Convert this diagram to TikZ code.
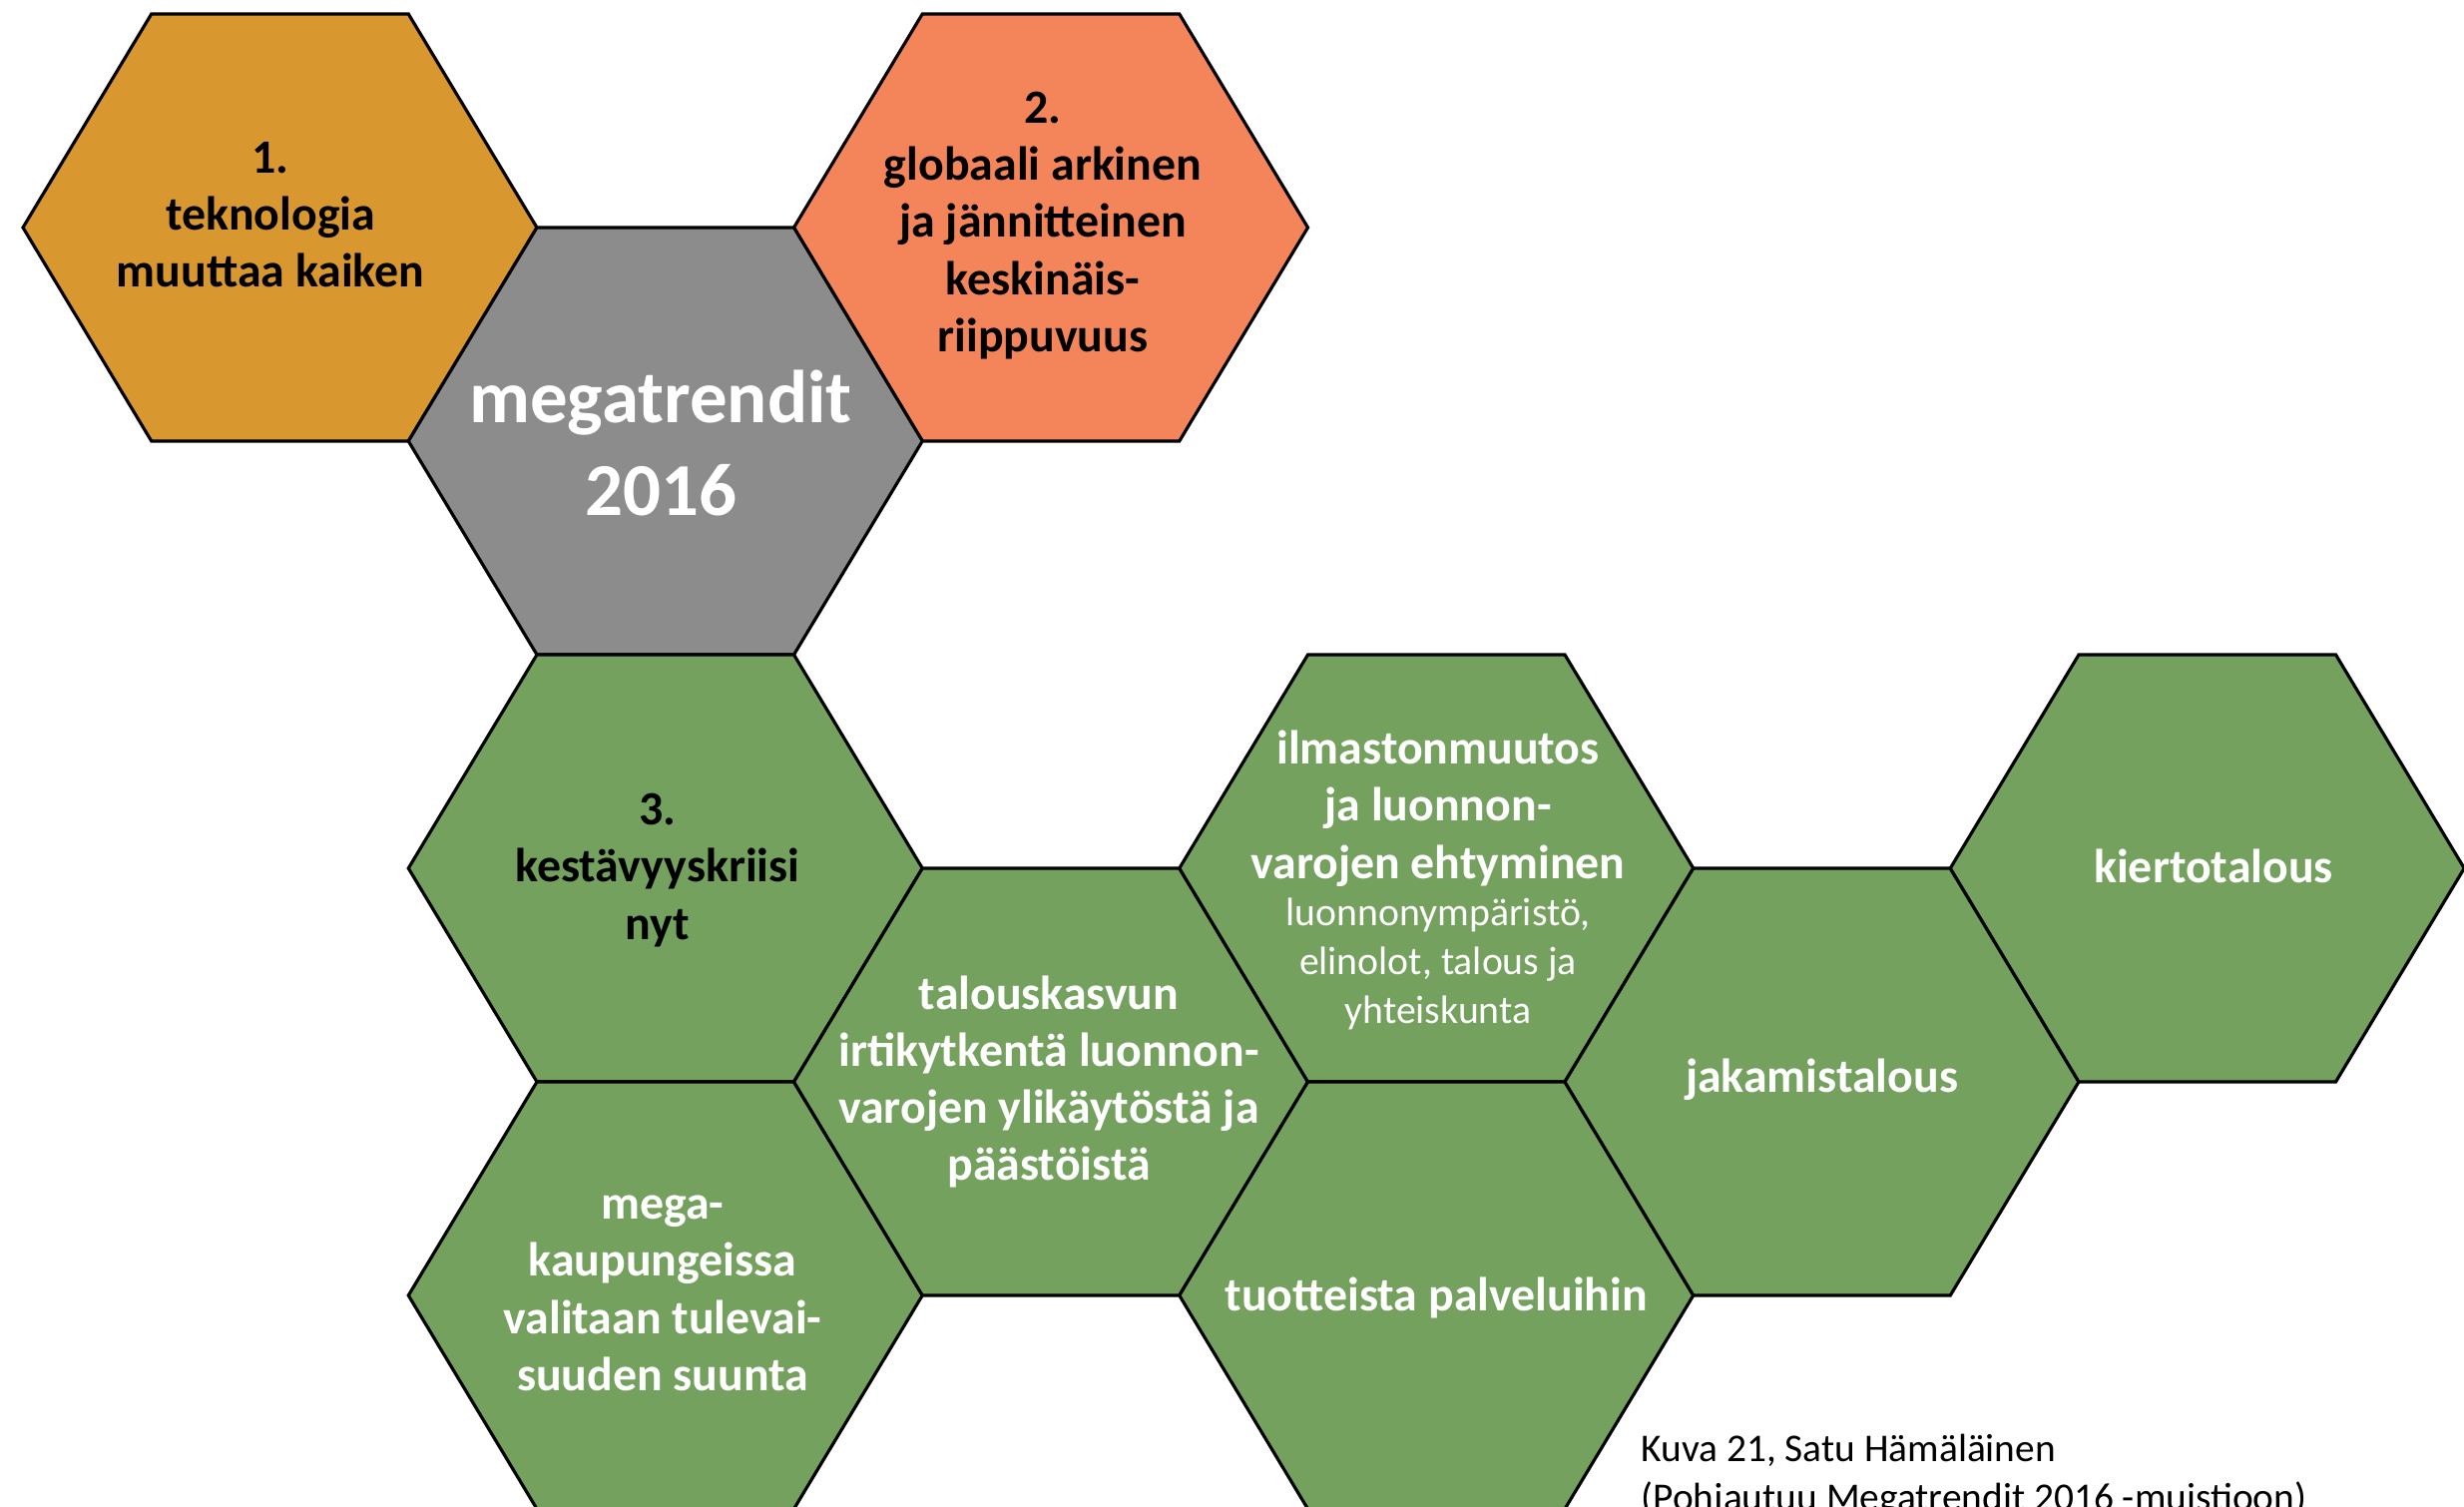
\documentclass[tikz,border=0pt]{standalone}
\usepackage{fontspec}
\setmainfont{Carlito}
\definecolor{hexorange}{RGB}{217,151,48}
\definecolor{hexsalmon}{RGB}{244,133,90}
\definecolor{hexgray}{RGB}{140,140,140}
\definecolor{hexgreen}{RGB}{116,161,94}
\tikzset{
  hexa/.pic={\path[pic actions] (-257.5,0) -- (-128.75,-214) -- (128.75,-214) -- (257.5,0) -- (128.75,214) -- (-128.75,214) -- cycle;},
  hexline/.style={draw=black, line width=0.9pt, line join=miter},
  lbl/.style={align=center, inner sep=0pt, font=\bfseries\fontsize{13.6}{16.3}\selectfont},
  sublbl/.style={align=center, inner sep=0pt, text=white, font=\fontsize{11.3}{13.9}\selectfont},
  biglbl/.style={align=center, inner sep=0pt, text=white, font=\bfseries\fontsize{21.3}{26.5}\selectfont},
  captext/.style={anchor=base west, inner sep=0pt, font=\fontsize{11.2}{13.4}\selectfont}
}
\begin{document}
\begin{tikzpicture}[x=0.01cm,y=-0.01cm]
\useasboundingbox (0,0) rectangle (2469,1510);
\clip (0,0) rectangle (2469,1510);
% hexagons
\pic[hexline, fill=hexorange] at (280.5,228) {hexa};
\pic[hexline, fill=hexsalmon] at (1053,228) {hexa};
\pic[hexline, fill=hexgray] at (666.75,442) {hexa};
\pic[hexline, fill=hexgreen] at (666.75,870) {hexa};
\pic[hexline, fill=hexgreen] at (666.75,1298) {hexa};
\pic[hexline, fill=hexgreen] at (1053,1084) {hexa};
\pic[hexline, fill=hexgreen] at (1439.25,870) {hexa};
\pic[hexline, fill=hexgreen] at (1439.25,1298) {hexa};
\pic[hexline, fill=hexgreen] at (1825.5,1084) {hexa};
\pic[hexline, fill=hexgreen] at (2211.75,870) {hexa};
% labels
\node[lbl, text=black] (t1) at (271,215) {1.\\teknologia\\muuttaa kaiken};
\node[lbl, text=black] (t2) at (1045,226) {2.\\globaali arkinen\\ja jännitteinen\\keskinäis-\\riippuvuus};
\node[biglbl] (mt) at (662,444) {megatrendit\\2016};
\node[lbl, text=black] (t3) at (659,872) {3.\\kestävyyskriisi\\nyt};
\node[lbl, text=white] (mega) at (664,1296) {mega-\\kaupungeissa\\valitaan tulevai-\\suuden suunta};
\node[lbl, text=white] (tal) at (1051,1084) {talouskasvun\\irtikytkentä luonnon-\\varojen ylikäytöstä ja\\päästöistä};
\node[lbl, text=white] (ilm) at (1441,810) {ilmastonmuutos\\ja luonnon-\\varojen ehtyminen};
\node[sublbl] (ilmsub) at (1441,966) {luonnonympäristö,\\elinolot, talous ja\\yhteiskunta};
\node[lbl, text=white] (tuo) at (1439.25,1300) {tuotteista palveluihin};
\node[lbl, text=white] (jak) at (1825.5,1082) {jakamistalous};
\node[lbl, text=white] (kie) at (2218,868) {kiertotalous};
% caption
\node[captext] (cap1) at (1644,1464) {Kuva 21, Satu Hämäläinen};
\node[captext] (cap2) at (1644,1513) {(Pohjautuu Megatrendit 2016 -muistioon)};
\end{tikzpicture}
\end{document}
